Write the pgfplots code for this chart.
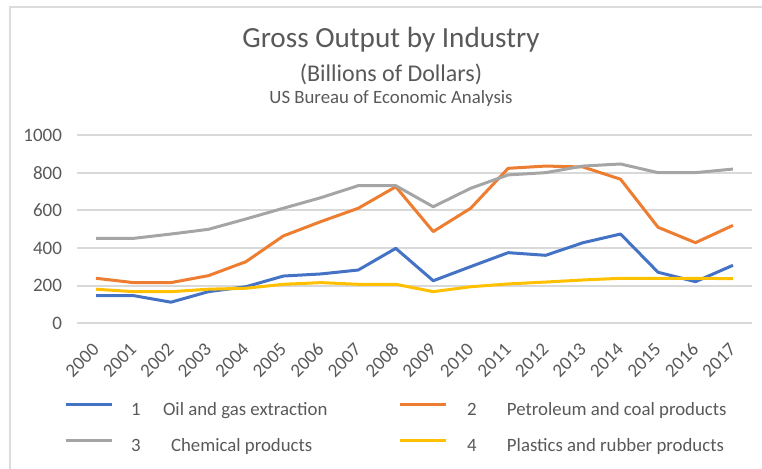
\documentclass[border=0pt]{standalone}
\usepackage{pgfplots}
\pgfplotsset{compat=1.18}
\usepackage{fontspec}
\setmainfont{Carlito}
\definecolor{cblue}{HTML}{4472C4}
\definecolor{corange}{HTML}{ED7D31}
\definecolor{cgray}{HTML}{A5A5A5}
\definecolor{cyellow}{HTML}{FFC000}
\definecolor{textgray}{HTML}{595959}
\definecolor{gridgray}{HTML}{D9D9D9}
\definecolor{framegray}{HTML}{DCDCDC}
\begin{document}
\begin{tikzpicture}
\path[use as bounding box] (0,0) rectangle (381pt,234.5pt);
\draw[color=framegray, line width=0.9pt] (5pt,0) -- (5pt,231pt) -- (381pt,231pt);
\node[anchor=base, text=textgray, font=\fontsize{14.6}{17}\selectfont, inner sep=0pt] at (195.5pt,210.5pt) {Gross Output by Industry};
\node[anchor=base, text=textgray, font=\fontsize{12}{14}\selectfont, inner sep=0pt] at (195.5pt,193.7pt) {(Billions of Dollars)};
\node[anchor=base, text=textgray, font=\fontsize{9.4}{11}\selectfont, inner sep=0pt] at (195.5pt,182.8pt) {US Bureau of Economic Analysis};
\begin{axis}[
  at={(38.65pt,72.85pt)}, anchor=south west,
  scale only axis, width=337.2pt, height=94.15pt,
  xmin=1999.5, xmax=2017.5, ymin=0, ymax=1000,
  xtick={2000,...,2017}, ytick={0,200,...,1000},
  axis line style={draw=none}, major tick length=0pt,
  ymajorgrids, grid style={draw=gridgray, line width=0.9pt},
  /pgf/number format/assume math mode=true,
  /pgf/number format/1000 sep={},
  tick label style={font=\fontsize{9.5}{11}\selectfont, text=textgray, inner sep=0pt},
  yticklabel shift=7.5pt,
  xticklabel style={rotate=45, anchor=east},
  xticklabel shift=11.5pt,
  legend columns=2,
  legend cell align=left,
  legend style={at={(-0.0197,-0.423)}, anchor=north west, draw=none, fill=none,
    inner sep=0pt, outer sep=0pt, column sep=0pt, row sep=9.8pt,
    font=\fontsize{9.4}{11}\selectfont, text=textgray,
    nodes={inner sep=0pt, outer sep=0pt}},
  legend image code/.code={\draw[#1] (0pt,3pt) -- (23pt,3pt);},
  every axis plot/.append style={line width=1.5pt, line join=round},
]
\addplot[cblue] coordinates {(2000,147) (2001,147) (2002,112) (2003,168) (2004,194) (2005,251) (2006,262) (2007,283) (2008,398) (2009,226) (2010,301) (2011,375) (2012,361) (2013,428) (2014,474) (2015,271) (2016,221) (2017,308)};
\addlegendentry{\makebox[142.5pt][l]{\hspace{9pt}\makebox[16pt][l]{1}Oil and gas extraction}}
\addplot[corange] coordinates {(2000,239) (2001,216) (2002,216) (2003,253) (2004,327) (2005,464) (2006,540) (2007,611) (2008,725) (2009,487) (2010,611) (2011,823) (2012,835) (2013,830) (2014,765) (2015,510) (2016,428) (2017,520)};
\addlegendentry{\hspace{10pt}\makebox[20pt][l]{2}Petroleum and coal products}
\addplot[cgray] coordinates {(2000,451) (2001,451) (2002,474) (2003,499) (2004,554) (2005,611) (2006,667) (2007,731) (2008,731) (2009,619) (2010,717) (2011,788) (2012,800) (2013,835) (2014,846) (2015,800) (2016,800) (2017,819)};
\addlegendentry{\makebox[142.5pt][l]{\hspace{9pt}\makebox[20pt][l]{3}Chemical products}}
\addplot[cyellow] coordinates {(2000,181) (2001,168) (2002,168) (2003,181) (2004,186) (2005,207) (2006,216) (2007,207) (2008,207) (2009,168) (2010,194) (2011,209) (2012,219) (2013,230) (2014,239) (2015,239) (2016,239) (2017,237)};
\addlegendentry{\hspace{10pt}\makebox[20pt][l]{4}Plastics and rubber products}
\end{axis}
\end{tikzpicture}
\end{document}
